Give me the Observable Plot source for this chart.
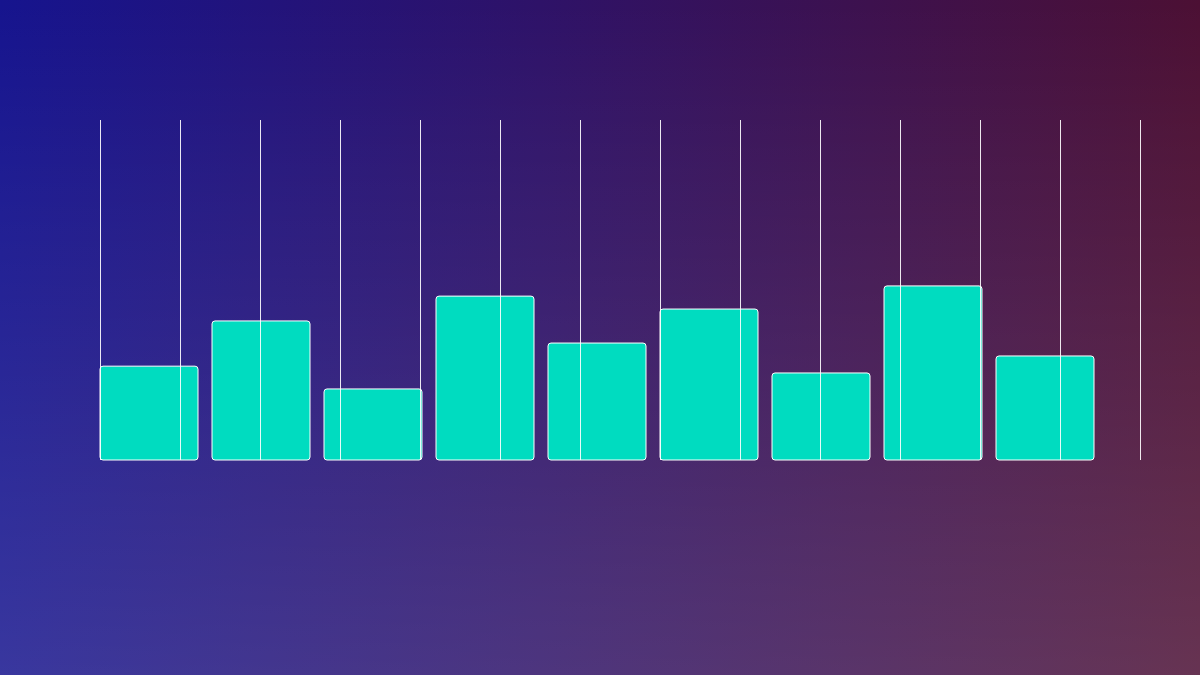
<!DOCTYPE html>
<html>
<head>
<meta charset="utf-8">
<script src="https://cdn.jsdelivr.net/npm/d3@7"></script>
<script src="https://cdn.jsdelivr.net/npm/@observablehq/plot@0.6"></script>
<style>
  html, body { margin: 0; padding: 0; }
  #chart {
    position: relative;
    width: 1200px; height: 675px; overflow: hidden;
    background:
      linear-gradient(to bottom, rgba(255,255,255,0) 0%, rgba(255,255,255,0.15) 100%),
      linear-gradient(to right, #16148e 0%, #2e1268 45%, #4c1034 100%);
    font-family: "Noto Sans", sans-serif;
  }
  #chart svg { position: absolute; left: 0; top: 0; background: transparent; }
</style>
</head>
<body>
<div id="chart"></div>
<script>
const categories = ["A", "B", "C", "D", "E", "F", "G", "H", "I"];
const values = [27.6, 40.9, 20.9, 48.2, 34.4, 44.4, 25.6, 51.2, 30.6];
const gridTicks = d3.range(0, 14);

const data = categories.map((c, i) => ({category: c, value: values[i]}));
const W = 1200, H = 675;
const margins = {marginTop: 120, marginBottom: 215, marginLeft: 100, marginRight: 60};

const bars = Plot.plot({
  width: W, height: H, ...margins,
  style: {background: "transparent", overflow: "visible"},
  x: {type: "band", domain: categories, paddingInner: 0.125, paddingOuter: 0.2, align: 0, axis: null},
  y: {domain: [0, 100], axis: null},
  marks: [
    Plot.barY(data, {x: "category", y: "value", fill: "#00dcc0", stroke: "#ffffff", strokeWidth: 1, rx: 3})
  ]
});

const grid = Plot.plot({
  width: W, height: H, ...margins,
  style: {background: "transparent", overflow: "visible"},
  x: {type: "linear", domain: [0, 13], axis: null},
  y: {domain: [0, 100], axis: null},
  marks: [
    Plot.ruleX(gridTicks, {x: d => d, stroke: "#ffffff", strokeOpacity: 0.9, strokeWidth: 1})
  ]
});

const el = document.getElementById("chart");
el.appendChild(bars);
el.appendChild(grid);
</script>
</body>
</html>
